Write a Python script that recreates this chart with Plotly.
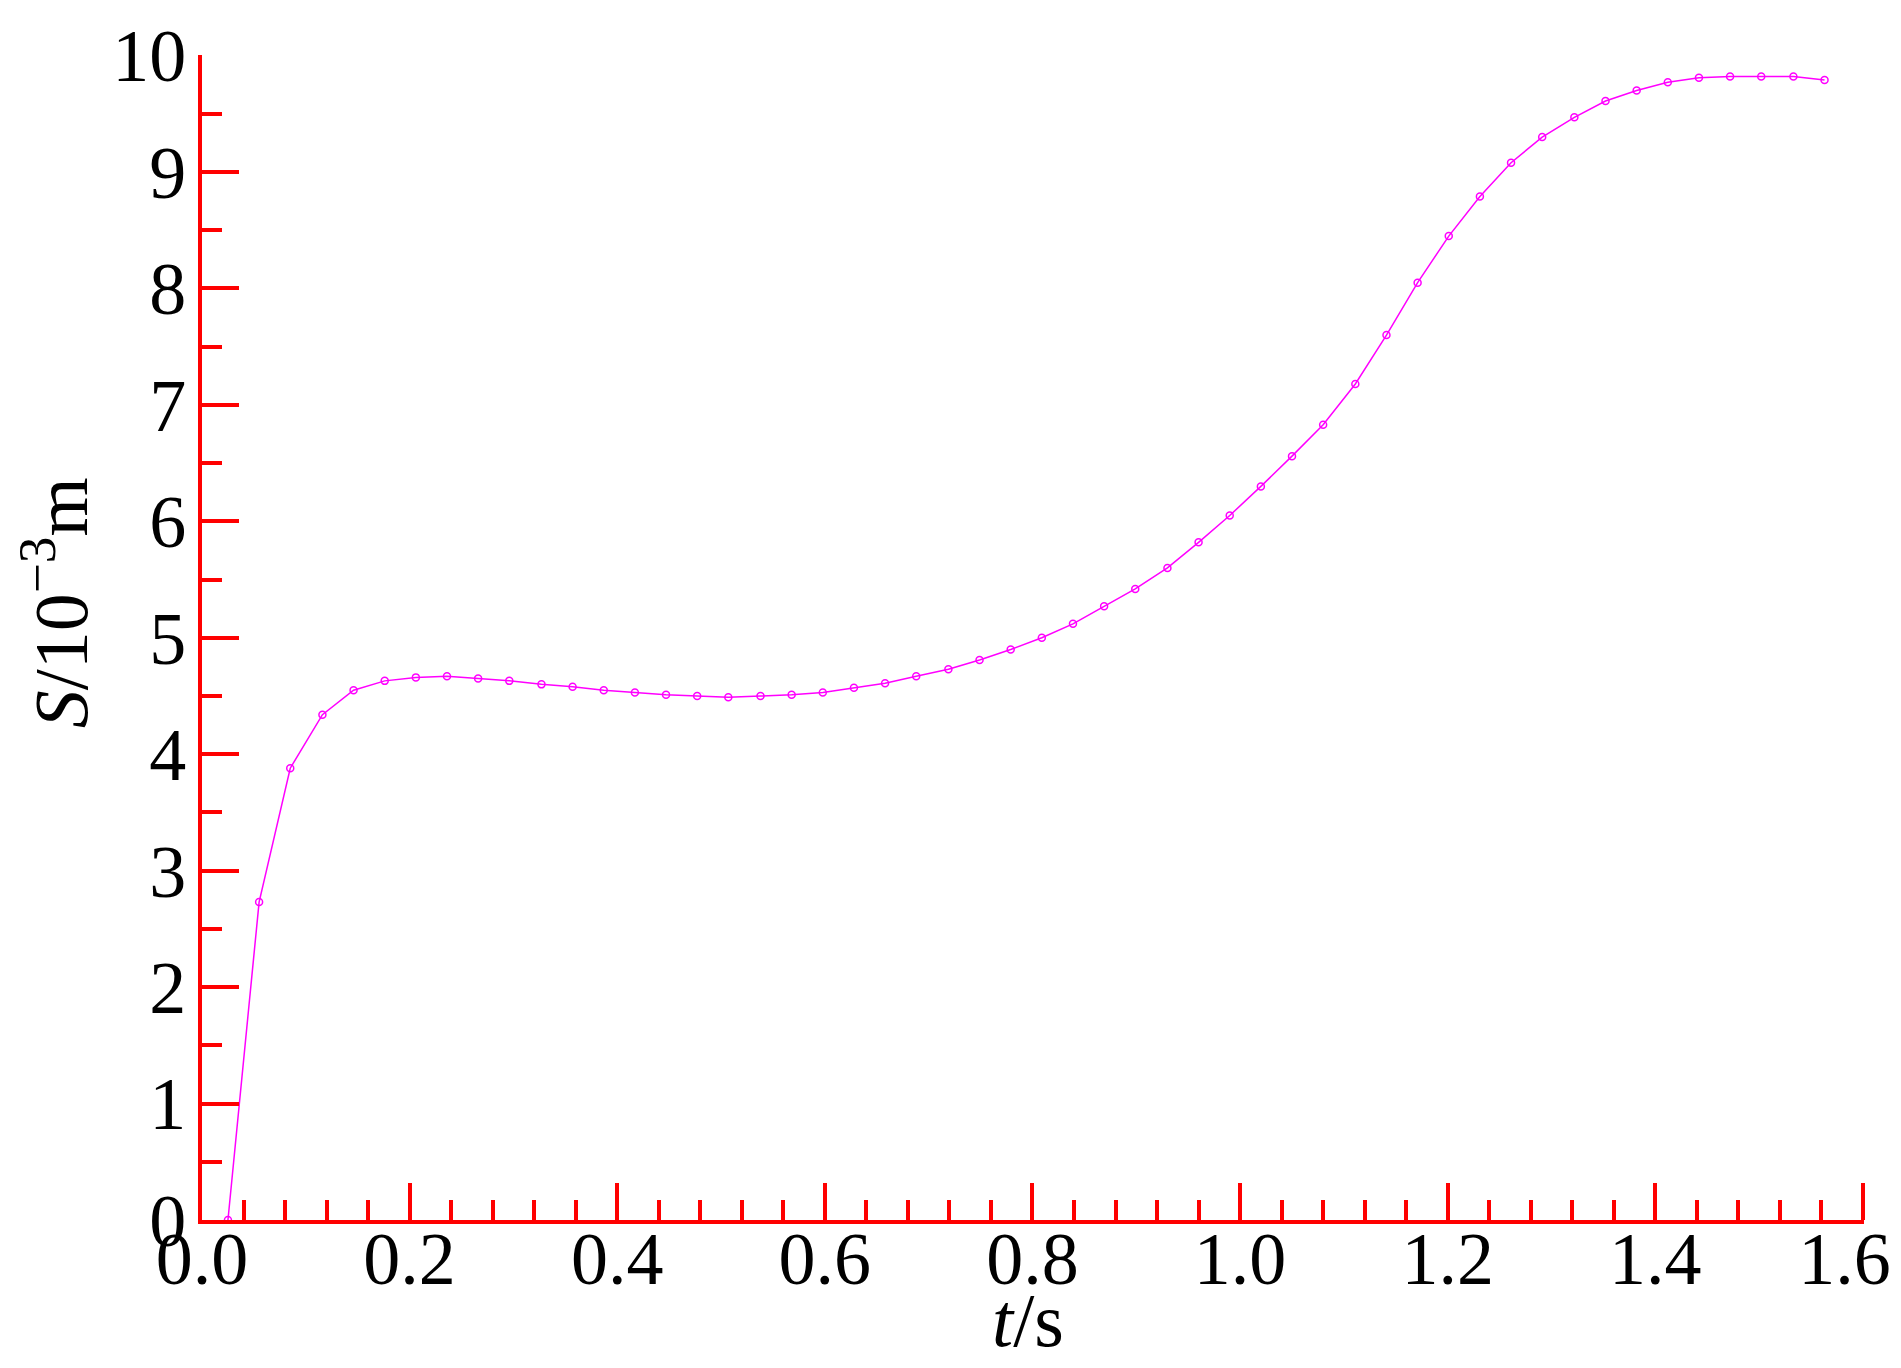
import plotly.graph_objects as go

# time (s) and displacement S (10^-3 m)
t_vals = [0.025, 0.055, 0.085, 0.116, 0.146, 0.176, 0.206, 0.236, 0.266, 0.296,
          0.327, 0.357, 0.387, 0.417, 0.447, 0.477, 0.507, 0.538, 0.568, 0.598,
          0.628, 0.658, 0.688, 0.719, 0.749, 0.779, 0.809, 0.839, 0.869, 0.899,
          0.930, 0.960, 0.990, 1.020, 1.050, 1.080, 1.111, 1.141, 1.171, 1.201,
          1.231, 1.261, 1.291, 1.322, 1.352, 1.382, 1.412, 1.442, 1.472, 1.502,
          1.533, 1.563]
s_vals = [0.0, 2.73, 3.88, 4.34, 4.55, 4.63, 4.66, 4.67, 4.65, 4.63,
          4.60, 4.58, 4.55, 4.53, 4.51, 4.50, 4.49, 4.50, 4.51, 4.53,
          4.57, 4.61, 4.67, 4.73, 4.81, 4.90, 5.00, 5.12, 5.27, 5.42,
          5.60, 5.82, 6.05, 6.30, 6.56, 6.83, 7.18, 7.60, 8.05, 8.45,
          8.79, 9.08, 9.30, 9.47, 9.61, 9.70, 9.77, 9.81, 9.82, 9.82,
          9.82, 9.79]

x_ticks = [0.0, 0.2, 0.4, 0.6, 0.8, 1.0, 1.2, 1.4, 1.6]
y_ticks = [0, 1, 2, 3, 4, 5, 6, 7, 8, 9, 10]

RED = '#ff0000'
MAGENTA = '#ff00ff'
SERIF = 'Liberation Serif, Times New Roman, serif'

# last label: an invisible trailing digit pulls it left so it stays on the page
x_labels = [f'{v:.1f}' for v in x_ticks]
x_labels[-1] = x_labels[-1] + '<span style="color:white">0</span>'

fig = go.Figure()
fig.add_trace(go.Scatter(
    x=t_vals, y=s_vals,
    mode='lines+markers',
    line=dict(color=MAGENTA, width=1.5),
    marker=dict(symbol='circle-open', size=7, color=MAGENTA,
                line=dict(width=1.5, color=MAGENTA)),
    showlegend=False,
))

# red axes with inward ticks, no grid; automargin off so the plot box stays put
axis_common = dict(
    showline=True, linecolor=RED, linewidth=4,
    ticks='inside', tickcolor=RED, tickwidth=4, ticklen=37,
    showgrid=False, zeroline=False, automargin=False,
    ticklabeloverflow='allow',
    tickfont=dict(family=SERIF, size=74, color='black'),
)

fig.update_xaxes(
    range=[0, 1.601], tickvals=x_ticks, ticktext=x_labels,
    ticklabelstandoff=-29,
    minor=dict(dtick=0.04, ticks='inside', ticklen=20, tickwidth=4,
               tickcolor=RED, showgrid=False),
    **axis_common,
)
fig.update_yaxes(
    range=[0, 10.005], tickvals=y_ticks,
    ticklabelstandoff=-3,
    minor=dict(dtick=0.5, ticks='inside', ticklen=20, tickwidth=4,
               tickcolor=RED, showgrid=False),
    **axis_common,
)

fig.add_annotation(
    text='<i>t</i>/s', xref='paper', yref='paper',
    x=0.497, y=-0.086, xanchor='center', yanchor='middle',
    showarrow=False, font=dict(family=SERIF, size=76, color='black'),
)
fig.add_annotation(
    text='<i>S</i>/10<sup>−3</sup>m', xref='paper', yref='paper',
    x=-0.088, y=0.53, xanchor='center', yanchor='middle', textangle=-90,
    showarrow=False, font=dict(family=SERIF, size=76, color='black'),
)

fig.update_layout(
    width=1901, height=1368,
    margin=dict(l=194, r=45, t=47, b=156),
    plot_bgcolor='white', paper_bgcolor='white',
)

fig.write_html("out.html")
